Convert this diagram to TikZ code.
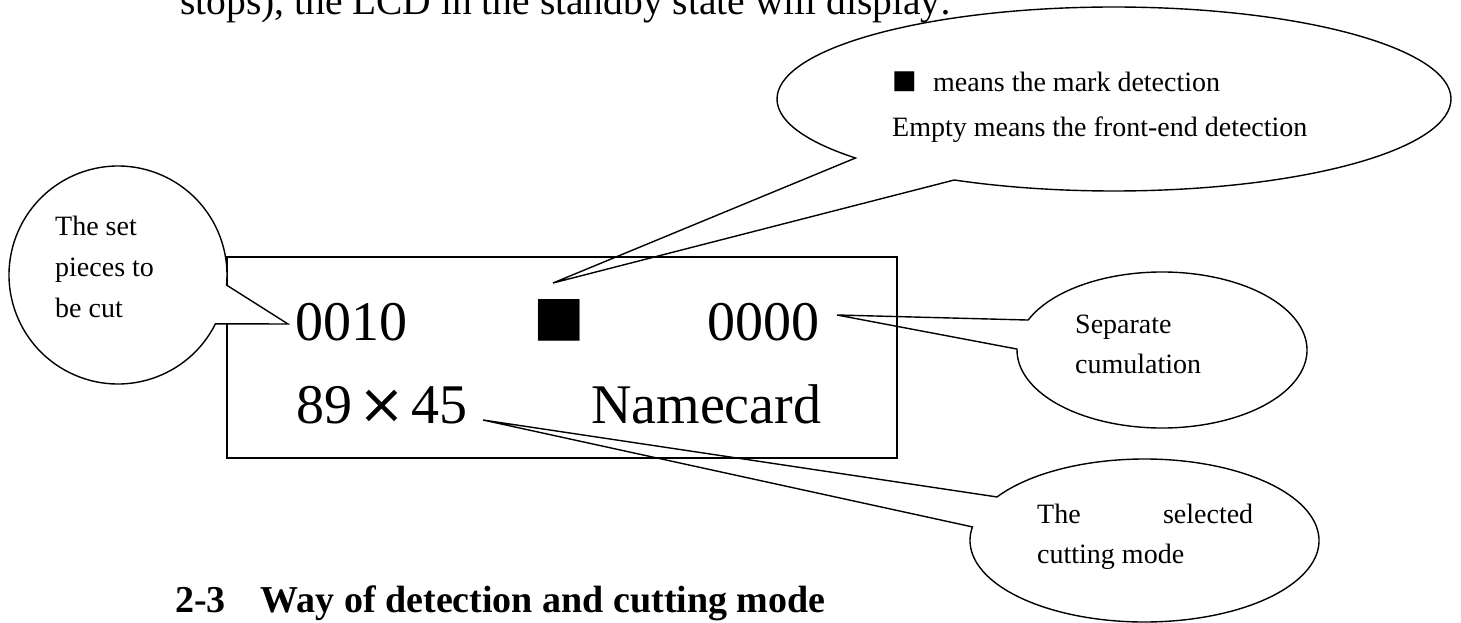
\documentclass[tikz,border=0pt]{standalone}
\usepackage{fontspec}
\setmainfont{Liberation Serif}
\newfontfamily\dejavu{DejaVu Sans}
\begin{document}
\begin{tikzpicture}[x=1pt,y=-1pt,
  bubble/.style={draw=black, line width=1.4pt, fill=white, line join=miter},
  lcdbox/.style={draw=black, line width=2.6pt},
  txt/.style={anchor=base west, inner sep=0pt, font=\fontsize{28}{32}\selectfont},
  lcdtxt/.style={anchor=base west, inner sep=0pt, font=\fontsize{56}{60}\selectfont}]
\useasboundingbox (0,0) rectangle (1461,623);
% centres and tips
\coordinate (bc) at (1114,99);
\coordinate (tipB) at (553,283);
\coordinate (sc) at (1162,350);
\coordinate (tipS) at (837,315);
\coordinate (cc) at (1144.5,540.5);
\coordinate (tipC) at (483,420);
\coordinate (lc) at (118,275);
\coordinate (tipL) at (288,324);
% callouts behind the display
\draw[bubble] (bc) ++(140.1:337 and 92) arc[start angle=140.1, end angle=478.3, x radius=337, y radius=92] -- (tipB) -- cycle;
\draw[bubble] (sc) ++(202.6:145 and 78) arc[start angle=202.6, end angle=540.7, x radius=145, y radius=78] -- (tipS) -- cycle;
\draw[bubble] (cc) ++(212.3:174.5 and 81.5) arc[start angle=212.3, end angle=549.6, x radius=174.5, y radius=81.5] -- (tipC) -- cycle;
% display
\draw[lcdbox] (227,257) rectangle (897,458);
% left callout over the display
\draw[bubble] (lc) ++(26.6:109) arc[start angle=26.6, end angle=365.3, radius=109] -- (tipL) -- cycle;
% texts
\node[anchor=base west, inner sep=0pt, font=\fontsize{39.5}{44}\selectfont] (top) at (180,15) {stops), the LCD in the standby state will display:};
\node[anchor=base west, inner sep=0pt, font=\fontsize{38}{44}\selectfont\bfseries] (head) at (175,612) {2-3\hspace{35pt}Way of detection and cutting mode};
\node[txt] (l1) at (55,235) {The set};
\node[txt] (l2) at (55,276) {pieces to};
\node[txt] (l3) at (55,317) {be cut};
\node[txt, font=\dejavu\fontsize{26}{30}\selectfont] (b0) at (892,89) {■};
\node[txt] (b1) at (933,92) {means the mark detection};
\node[txt] (b2) at (892,136) {Empty means the front-end detection};
\node[txt] (s1) at (1075,333) {Separate};
\node[txt] (s2) at (1075,373) {cumulation};
\node[txt] (c1) at (1037,523) {\makebox[216pt][s]{The selected}};
\node[txt] (c2) at (1037,563) {cutting mode};
\node[lcdtxt] (d1) at (295,340) {0010};
\node[lcdtxt, font=\dejavu\fontsize{54.5}{60}\selectfont] (d2) at (533,334) {■};
\node[lcdtxt] (d3) at (707,340) {0000};
\node[lcdtxt] (d4) at (296,423) {89\hspace{6pt}{\dejavu ×}\hspace{6pt}45};
\node[lcdtxt] (d5) at (591,423) {Namecard};
\end{tikzpicture}
\end{document}
